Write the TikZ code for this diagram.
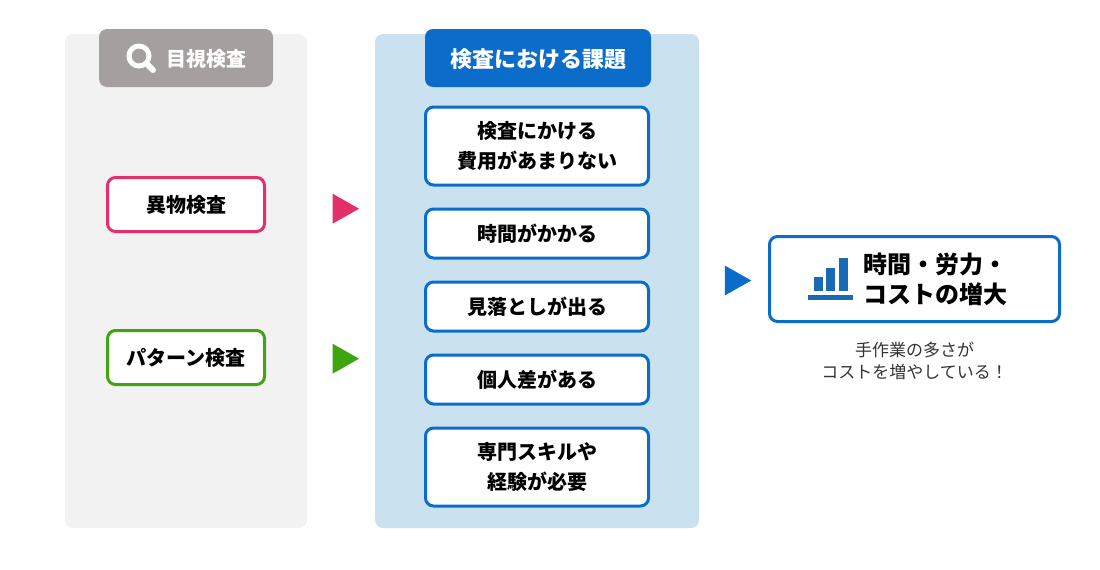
\documentclass[tikz,border=0pt]{standalone}
\usepackage{fontspec}
\setmainfont{Noto Sans CJK JP}
\usetikzlibrary{shapes.geometric}
\definecolor{panelgray}{HTML}{F2F2F2}
\definecolor{panelblue}{HTML}{CAE2F0}
\definecolor{headgray}{HTML}{A59F9F}
\definecolor{mainblue}{HTML}{0B6CC9}
\definecolor{iconblue}{HTML}{1A69B5}
\definecolor{mainpink}{HTML}{E33069}
\definecolor{maingreen}{HTML}{3FA40F}

\tikzset{%
  every panel/.style={
    rounded corners=8pt,
    inner sep=0pt
  },
  every item/.style={
    draw,
    fill=white,
    line width=3pt,
    rounded corners=8pt,
    align=center,
    inner sep=0pt,
    text=black,
    font=\fontsize{20}{30}\selectfont\bfseries
  },
  every head/.style={
    rounded corners=8pt,
    text=white,
    inner sep=0pt,
    font=\bfseries
  },
  every marker/.style={
    isosceles triangle,
    isosceles triangle stretches,
    inner sep=0pt,
    minimum width=30pt,
    minimum height=26.5pt
  },
}

\begin{document}
\begin{tikzpicture}[x=1pt, y=-1pt]
\useasboundingbox (0,0) rectangle (1100,570);

% PANELS
\node [every panel, fill=panelgray, minimum width=242pt, minimum height=494pt]
  (panel-left) at (186,281) {};
\node [every panel, fill=panelblue, minimum width=324pt, minimum height=494pt]
  (panel-right) at (537,281) {};

% HEADERS
\node [every head, fill=headgray, minimum width=174pt, minimum height=58pt]
  (head-left) at (186,58) {};
\node [every head, anchor=west, font=\fontsize{20}{24}\selectfont\bfseries]
  (head-left-text) at (166,59) {目視検査};
\node [every head, fill=mainblue, minimum width=226pt, minimum height=58pt]
  (head-right) at (538,58) {};
\node [every head, font=\fontsize{22}{26}\selectfont\bfseries]
  (head-right-text) at (538,59) {検査における課題};

% Magnifier
\draw [white, line width=5pt] (139,56) circle (10);
\draw [white, line width=6pt, line cap=round] (148,65) -- (153,70);

% LEFT items
\node [every item, draw=mainpink, minimum width=157pt, minimum height=54pt]
  (item-foreign) at (186,204.5) {異物検査};
\node [every item, draw=maingreen, minimum width=157pt, minimum height=54pt]
  (item-pattern) at (186,357.5) {パターン検査};

% RIGHT items
\foreach \y/\h/\l [count=\i] in {146/78/{検査にかける\\費用があまりない},
    233.5/49/{時間がかかる}, 306.5/49/{見落としが出る},
    379.5/49/{個人差がある}, 467/78/{専門スキルや\\経験が必要}}
  \node [every item, draw=mainblue, minimum width=223pt, minimum height=\h pt]
    (issue-\i) at (537,\y) {\l};

% MARKERS
\node [every marker, fill=mainpink] (marker-pink) at (341.3,208.7) {};
\node [every marker, fill=maingreen] (marker-green) at (341.3,358.7) {};
\node [every marker, fill=mainblue] (marker-blue) at (733.5,280.5) {};

% RESULT
\node [every item, draw=mainblue, minimum width=290pt, minimum height=85pt]
  (result) at (914.5,279) {};
\node [anchor=west, align=left, inner sep=0pt, text=black,
  font=\fontsize{24}{30}\selectfont\bfseries]
  (result-text) at (863,279) {時間・労力・\\コストの増大};
\node [align=center, inner sep=0pt, text=black!80,
  font=\fontsize{17}{22}\selectfont]
  (result-note) at (914.5,361) {手作業の多さが\\コストを増やしている！};

% Bar icon
\foreach \x/\t in {814/276.7, 826.3/268.3, 839/258.3}
  \fill [iconblue] (\x,\t) rectangle (\x+8.5,290.7);
\fill [iconblue] (808.3,294.5) rectangle (852.7,299.7);

\end{tikzpicture}
\end{document}
